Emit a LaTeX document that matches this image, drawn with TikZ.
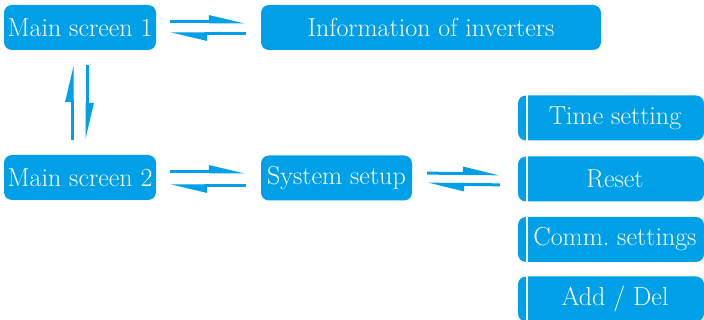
\documentclass[tikz,border=0pt]{standalone}
\usepackage{xcolor}
\usepackage{tikz}
\usetikzlibrary{arrows.meta, positioning, calc}
\definecolor{myblue}{RGB}{0,160,233}
\tikzset{
  block/.style={rectangle, fill=myblue, rounded corners=8pt,
    text=white, align=center, minimum height=45pt, inner sep=0pt,
    font=\fontsize{26}{30}\selectfont},
  sidebox/.style={block, minimum width=186pt},
  harpoon/.style={line width=3pt, color=myblue,
    -{Stealth[left, inset=0pt, length=30pt, width=13pt]}},
  stripe/.style={white, line width=1.6pt}
}
\begin{document}
\begin{tikzpicture}[x=1pt, y=-1pt]
  \useasboundingbox (0,0) rectangle (704,320);
  % --- MAIN SCREENS ---
  \node[block, minimum width=152pt] (main1) at (80, 27.5) {Main screen 1};
  \node[block, minimum width=340pt] (info) at (431, 27.5) {Information of inverters};
  \node[block, minimum width=152pt] (main2) at (80, 177.5) {Main screen 2};
  \node[block, minimum width=151pt] (setup) at (336.5, 178) {System setup};

  % --- SETUP MENU ---
  \node[sidebox] (time) at (611, 118) {\hspace*{8pt}Time setting};
  \node[sidebox] (reset) at (611, 179) {\hspace*{8pt}Reset};
  \node[sidebox] (comm) at (611, 239.5) {\hspace*{8pt}Comm.\ settings};
  \node[sidebox] (adddel) at (611, 299) {\hspace*{8pt}Add / Del};
  \foreach \n in {time, reset, comm, adddel}
    \draw[stripe] ([xshift=9pt]\n.north west) -- ([xshift=9pt]\n.south west);

  % --- ARROWS ---
  \draw[harpoon, shorten <=14pt, shorten >=15pt] ([yshift=5.5pt]main1.east) -- ([yshift=5.5pt]info.west);
  \draw[harpoon, shorten <=15pt, shorten >=14pt] ([yshift=-6.5pt]info.west) -- ([yshift=-6.5pt]main1.east);

  \draw[harpoon, shorten <=15pt, shorten >=15pt] ([xshift=-8pt]main2.north) -- ([xshift=-8pt]main1.south);
  \draw[harpoon, shorten <=15pt, shorten >=15pt] ([xshift=7pt]main1.south) -- ([xshift=7pt]main2.north);

  \draw[harpoon, shorten <=14pt, shorten >=15pt] ([yshift=5.5pt]main2.east) -- ([yshift=5.5pt]main2.east -| setup.west);
  \draw[harpoon, shorten <=15pt, shorten >=14pt] ([yshift=-8.5pt]main2.east -| setup.west) -- ([yshift=-8.5pt]main2.east);

  \draw[harpoon, shorten <=15pt, shorten >=18pt] ([yshift=5pt]setup.east) -- ([yshift=5pt]reset.west);
  \draw[harpoon, shorten <=18pt, shorten >=15pt] ([yshift=-6pt]reset.west) -- ([yshift=-6pt]setup.east);
\end{tikzpicture}
\end{document}
